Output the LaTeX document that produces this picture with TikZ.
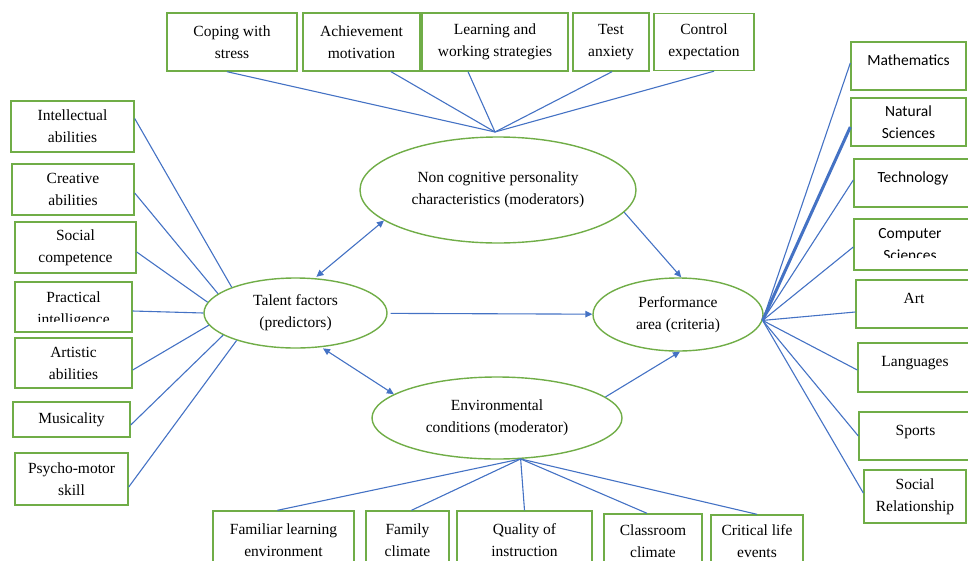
\documentclass[tikz,border=0pt]{standalone}
\usepackage{fontspec}
\setmainfont{Liberation Serif}
\newfontfamily\calfnt{Carlito}
\usepackage{tikz}
\usetikzlibrary{shapes.geometric,arrows.meta}
\definecolor{boxgreen}{RGB}{112,173,71}
\definecolor{linkblue}{RGB}{68,114,196}
\newcommand{\labfont}{\fontsize{15.5}{22}\selectfont}

\tikzset{
  sqbox/.style={draw=boxgreen, line width=1.4pt, align=center, inner sep=0pt, font=\labfont},
  ovalbox/.style={ellipse, draw=boxgreen, line width=1.4pt, align=center, inner sep=0pt, font=\labfont},
  calbox/.style={sqbox, font={\calfnt\labfont}},
  uptext/.style={text height=11pt, text depth=13pt},
  link/.style={draw=linkblue, line width=1.1pt},
  arr/.style={link, -{Triangle[length=7pt,width=6.5pt]}},
  twoarr/.style={link, {Triangle[length=7pt,width=6.5pt]}-{Triangle[length=7pt,width=6.5pt]}}
}

\begin{document}
\begin{tikzpicture}[x=1pt, y=-1pt]
  \useasboundingbox (0,0) rectangle (968,560);
  \clip (0,0) rectangle (968,560);

  % Central ovals
  \node[ovalbox, minimum width=276pt, minimum height=106pt] (noncog) at (498,190) {Non cognitive personality\\characteristics (moderators)};
  \node[ovalbox, minimum width=183pt, minimum height=70pt] (talent) at (295.5,313) {Talent factors\\(predictors)};
  \node[ovalbox, minimum width=170pt, minimum height=73pt] (perf) at (678,314.5) {Performance\\area (criteria)};
  \node[ovalbox, minimum width=250pt, minimum height=82pt] (envir) at (497,418) {Environmental\\conditions (moderator)};

  % Personality characteristics (top)
  \node[sqbox, minimum width=130pt, minimum height=58pt] (cope) at (232,42) {Coping with\\stress};
  \node[sqbox, minimum width=117pt, minimum height=58pt] (achiev) at (361.5,42) {Achievement\\motivation};
  \node[sqbox, minimum width=146pt, minimum height=58pt] (learn) at (495,42) {Learning and\\working strategies};
  \node[sqbox, minimum width=76pt, minimum height=58pt] (anxiety) at (611,42) {Test\\anxiety};
  \node[sqbox, minimum width=100pt, minimum height=57pt] (control) at (704,42) {Control\\expectation};

  % Talent factors (left)
  \node[sqbox, minimum width=123pt, minimum height=51pt] (intel) at (72.5,126.5) {Intellectual\\abilities};
  \node[sqbox, minimum width=122pt, minimum height=51pt] (creat) at (73,189.5) {Creative\\abilities};
  \node[sqbox, minimum width=121pt, minimum height=51pt] (social) at (75.5,247.5) {Social\\competence};
  \node[sqbox, minimum width=117pt, minimum height=50pt,
    path picture={
      \clip ([yshift=11pt]path picture bounding box.south west) rectangle (path picture bounding box.north east);
      \node[align=center, font=\labfont] at ([yshift=-3pt]path picture bounding box.center) {Practical\\intelligence};
    }] (pract) at (73.5,307) {};
  \node[sqbox, minimum width=117pt, minimum height=50pt] (artist) at (73.5,363) {Artistic\\abilities};
  \node[sqbox, minimum width=117pt, minimum height=35pt] (music) at (71.5,419.5) {Musicality};
  \node[sqbox, minimum width=113pt, minimum height=52pt] (psycho) at (71.5,479) {Psycho-motor\\skill};

  % Performance areas (right)
  \node[calbox, uptext, minimum width=115pt, minimum height=48pt] (maths) at (908.5,66) {Mathematics};
  \node[calbox, minimum width=115pt, minimum height=48pt] (natsci) at (908.5,122) {Natural\\Sciences};
  \node[calbox, uptext, minimum width=118pt, minimum height=48pt] (techn) at (913,183) {Technology};
  \node[calbox, minimum width=118pt, minimum height=51pt,
    path picture={
      \clip ([yshift=13pt]path picture bounding box.south west) rectangle (path picture bounding box.north east);
      \node[align=center, font={\calfnt\labfont}] at ([xshift=-3pt]path picture bounding box.center) {Computer\\Sciences};
    }] (compsci) at (913,244.5) {};
  \node[sqbox, uptext, minimum width=116pt, minimum height=48pt] (art) at (914,304) {Art};
  \node[sqbox, uptext, minimum width=114pt, minimum height=49pt] (lang) at (915,367.5) {Languages};
  \node[sqbox, uptext, minimum width=113pt, minimum height=48pt] (sports) at (915.5,436) {Sports};
  \node[sqbox, minimum width=102pt, minimum height=53pt] (socrel) at (915,496.5) {Social\\Relationship};

  % Environmental conditions (bottom)
  \node[sqbox, minimum width=141pt, minimum height=58pt] (famenv) at (283.5,540) {Familiar learning\\environment};
  \node[sqbox, minimum width=83pt, minimum height=58pt] (famclim) at (407.5,540) {Family\\climate};
  \node[sqbox, minimum width=135pt, minimum height=58pt] (quality) at (524.5,540) {Quality of\\instruction};
  \node[sqbox, minimum width=98pt, minimum height=54pt] (classclim) at (653,541) {Classroom\\climate};
  \node[sqbox, minimum width=92pt, minimum height=52pt] (critical) at (757,541) {Critical life\\events};

  % Hubs where the fans meet
  \coordinate (nchub) at (495,132);
  \coordinate (envhub) at (envir.300);
  \coordinate (perfhub) at (perf.-4);

  % Fan to the non cognitive oval
  \draw[link] ([xshift=-5pt]cope.south) -- (nchub);
  \draw[link] ([xshift=29.5pt]achiev.south) -- (nchub);
  \draw[link] ([xshift=-27pt]learn.south) -- (nchub);
  \draw[link] ([xshift=1pt]anxiety.south) -- (nchub);
  \draw[link] ([xshift=10pt]control.south) -- (nchub);

  % Fan to the talent oval
  \draw[link] ([yshift=8pt]intel.east) -- (talent.158);
  \draw[link] ([yshift=-3.5pt]creat.east) -- (talent.166);
  \draw[link] ([yshift=-4.5pt]social.east) -- (talent.173);
  \draw[link] ([yshift=-4pt]pract.east) -- (talent.180);
  \draw[link] ([yshift=-7pt]artist.east) -- (talent.188);
  \draw[link] ([yshift=-5.5pt]music.east) -- (talent.197);
  \draw[link] ([yshift=-8pt]psycho.east) -- (talent.205);

  % Fan from the performance oval
  \draw[link] (perfhub) -- ([yshift=3pt]maths.west);
  \draw[link, line width=3pt] (perfhub) -- ([yshift=-5pt]natsci.west);
  \draw[link] (perfhub) -- ([yshift=3pt]techn.west);
  \draw[link] (perfhub) -- ([yshift=-2.5pt]compsci.west);
  \draw[link] (perfhub) -- ([yshift=-8pt]art.west);
  \draw[link] (perfhub) -- ([yshift=-2.5pt]lang.west);
  \draw[link] (perfhub) -- (sports.west);
  \draw[link] (perfhub) -- ([yshift=3.5pt]socrel.west);

  % Fan from the environmental oval
  \draw[link] (envhub) -- ([xshift=-6pt]famenv.north);
  \draw[link] (envhub) -- ([xshift=4pt]famclim.north);
  \draw[link] (envhub) -- (quality.north);
  \draw[link] (envhub) -- ([xshift=-6pt]classclim.north);
  \draw[link] (envhub) -- (critical.north);

  % Relations between the ovals
  \draw[twoarr, shorten <=2pt] (talent.61) -- (noncog.195);
  \draw[arr] (noncog.350) -- (perf.85);
  \draw[arr, shorten <=3pt] (talent) -- (perf);
  \draw[twoarr, shorten <=2pt] (talent.307) -- (envir.167);
  \draw[arr] (envir.11) -- (perf.273);
\end{tikzpicture}
\end{document}
